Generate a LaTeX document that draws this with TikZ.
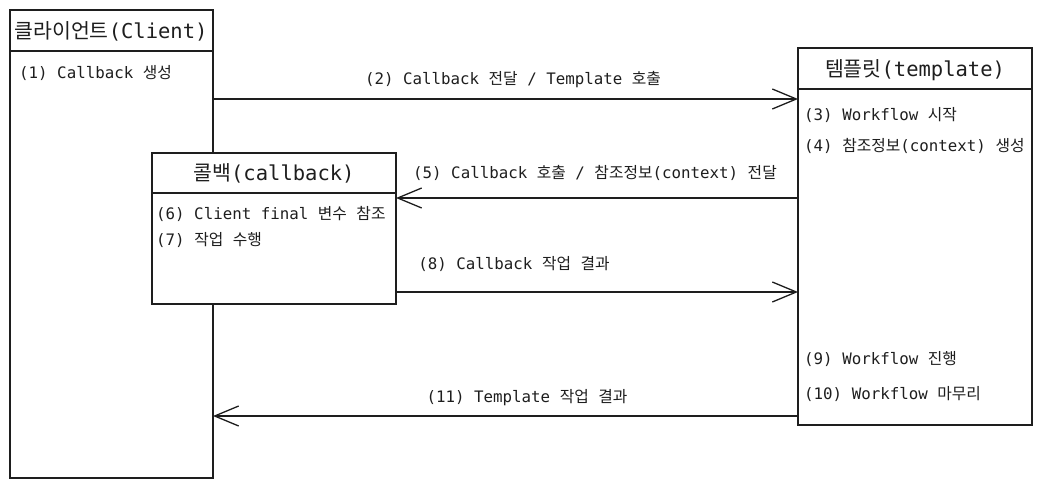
\documentclass[tikz,border=0pt]{standalone}
\usepackage{fontspec}
\setmainfont{DejaVu Sans Mono}
\newfontfamily\kr{Noto Sans CJK KR}
\usetikzlibrary{arrows.meta}
\definecolor{ink}{HTML}{1E1E1E}
\tikzset{
  box/.style={draw=ink, fill=white, line width=1.4pt, rectangle, inner sep=0pt, outer sep=0pt, anchor=north west},
  title/.style={text=ink, font=\fontsize{20.5}{23}\selectfont, inner sep=0pt},
  item/.style={text=ink, font=\fontsize{15.8}{18}\selectfont, inner sep=0pt, anchor=west},
  lbl/.style={text=ink, font=\fontsize{15.8}{18}\selectfont, inner sep=0pt},
  sep/.style={draw=ink, line width=1.4pt},
  arr/.style={draw=ink, line width=1.5pt, -{Straight Barb[length=24pt,width=20pt,line width=1.3pt]}},
}
\begin{document}
\begin{tikzpicture}[x=1pt,y=-1pt]
\useasboundingbox (0,0) rectangle (1044,489);
% boxes
\node[box, minimum width=203pt, minimum height=468pt] (client) at (10,10) {};
\node[box, minimum width=244pt, minimum height=151pt] (cb) at (152,153) {};
\node[box, minimum width=234pt, minimum height=377pt] (tmpl) at (798,48) {};
% header separators
\draw[sep] (client.west |- 0,51) -- (client.east |- 0,51);
\draw[sep] (cb.west |- 0,193) -- (cb.east |- 0,193);
\draw[sep] (tmpl.west |- 0,89) -- (tmpl.east |- 0,89);
% titles
\node[title] (tclient) at (111,31) {{\kr 클라이언트}(Client)};
\node[title] (tcb) at (274,173) {{\kr 콜백}(callback)};
\node[title] (ttmpl) at (915,70) {{\kr 템플릿}(template)};
% items
\node[item] (i1) at (19,73) {(1) Callback {\kr 생성}};
\node[item] (i6) at (156,214) {(6) Client final {\kr 변수} {\kr 참조}};
\node[item] (i7) at (156,240) {(7) {\kr 작업} {\kr 수행}};
\node[item] (i3) at (804,115) {(3) Workflow {\kr 시작}};
\node[item] (i4) at (804,146) {(4) {\kr 참조정보}(context) {\kr 생성}};
\node[item] (i9) at (804,359) {(9) Workflow {\kr 진행}};
\node[item] (i10) at (804,394) {(10) Workflow {\kr 마무리}};
% arrows
\draw[arr] (client.east |- 0,99) -- (tmpl.west |- 0,99);
\draw[arr] (tmpl.west |- 0,198) -- (cb.east |- 0,198);
\draw[arr] (cb.east |- 0,292) -- (tmpl.west |- 0,292);
\draw[arr] (tmpl.west |- 0,416) -- (client.east |- 0,416);
% arrow labels
\node[lbl] (l2) at (513,80) {(2) Callback {\kr 전달} / Template {\kr 호출}};
\node[lbl] (l5) at (595,173) {(5) Callback {\kr 호출} / {\kr 참조정보}(context) {\kr 전달}};
\node[lbl] (l8) at (514,264) {(8) Callback {\kr 작업} {\kr 결과}};
\node[lbl] (l11) at (527,398) {(11) Template {\kr 작업} {\kr 결과}};
\end{tikzpicture}
\end{document}
